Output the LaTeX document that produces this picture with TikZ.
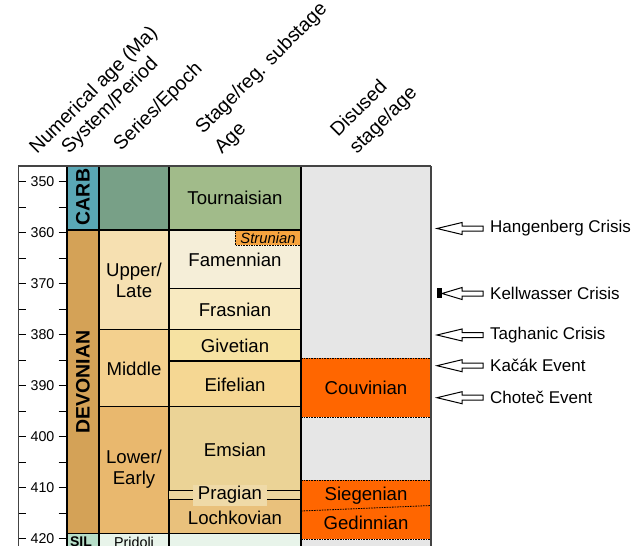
\documentclass[tikz,border=0pt]{standalone}
\usepackage{fontspec}
\setmainfont{Liberation Sans}
\definecolor{carb}{HTML}{5AA7B5}
\definecolor{carbser}{HTML}{78A087}
\definecolor{tourn}{HTML}{A1BB8A}
\definecolor{dev}{HTML}{D4A257}
\definecolor{upperc}{HTML}{F6E0B1}
\definecolor{famen}{HTML}{F5EED8}
\definecolor{frasn}{HTML}{F8EAC1}
\definecolor{middlec}{HTML}{F3D08E}
\definecolor{givet}{HTML}{F6E2A2}
\definecolor{eifel}{HTML}{F5D793}
\definecolor{lowerc}{HTML}{E9B86E}
\definecolor{emsian}{HTML}{EBD396}
\definecolor{pragband}{HTML}{ECD69E}
\definecolor{praglab}{HTML}{EFDAA8}
\definecolor{lochk}{HTML}{E9C17C}
\definecolor{strun}{HTML}{F7A43F}
\definecolor{disused}{HTML}{E6E6E6}
\definecolor{disor}{HTML}{FF6600}
\definecolor{silc}{HTML}{B6DEC8}
\definecolor{prid}{HTML}{E8F4EA}
\definecolor{framec}{HTML}{444444}
\begin{document}
\begin{tikzpicture}[x=1pt,y=-1pt,
  cell/.style={draw=black,line width=1.2pt},
  lab/.style={font=\fontsize{18.6}{21}\selectfont,inner sep=0pt,align=center,text=black},
  syslab/.style={font=\bfseries\fontsize{19.5}{21}\selectfont,inner sep=0pt,text=black,rotate=90},
  head/.style={font=\fontsize{19.5}{22}\selectfont,inner sep=0pt,anchor=base west,rotate=45,text=black},
  ticklab/.style={font=\fontsize{14.2}{16}\selectfont,inner sep=0pt,text=black},
  evlab/.style={font=\fontsize{17}{19}\selectfont,inner sep=0pt,anchor=west,text=black},
  dotline/.style={draw=black,line width=0.8pt,dash pattern=on 1.6pt off 1pt},
  arrowst/.style={draw=black,line width=1pt,fill=white,line join=miter},
  smalllab/.style={font=\fontsize{14.3}{16}\selectfont,inner sep=0pt,text=black}
]
\useasboundingbox (0,0) rectangle (643,546);
\fill[white] (0,0) rectangle (643,546);

% ---- headers
\node[head] (numH) at (37,155) {Numerical age (Ma)};
\node[head] (sysH) at (69,155) {System/Period};
\node[head] (serH) at (121,152) {Series/Epoch};
\node[head] (stgHa) at (203,135) {Stage/reg. substage};
\node[head] (stgHb) at (222,155) {Age};
\node[head] (disHa) at (338,138) {Disused};
\node[head] (disHb) at (357,155) {stage/age};

% ---- disused column
\fill[disused] (301,166) rectangle (431,546);
\fill[disor] (301,358) rectangle (431,417);
\fill[disor] (301,480) rectangle (431,539);
\draw[dotline] (301,358) -- (431,358);
\draw[dotline] (301,417) -- (431,417);
\draw[dotline] (301,480) -- (431,480);
\draw[dotline] (301,511) -- (431,505.5);
\draw[dotline] (301,539) -- (431,539);
\draw[draw=framec,line width=1.2pt] (431,166) -- (431,546);

% ---- system column
\filldraw[cell,fill=carb] (67,166) rectangle (99,230);
\filldraw[cell,fill=dev] (67,230) rectangle (99,533.5);
\filldraw[cell,fill=silc] (67,533.5) rectangle (99,550);

% ---- series column
\filldraw[cell,fill=carbser] (99,166) rectangle (169,230);
\filldraw[cell,fill=upperc] (99,230) rectangle (169,329.3);
\filldraw[cell,fill=middlec] (99,329.3) rectangle (169,406.7);
\filldraw[cell,fill=lowerc] (99,406.7) rectangle (169,533.5);
\filldraw[cell,fill=prid] (99,533.5) rectangle (169,550);

% ---- stage column
\filldraw[cell,fill=tourn] (169,166) rectangle (301,230);
\filldraw[cell,fill=famen] (169,230) rectangle (301,288.3);
\filldraw[cell,fill=frasn] (169,288.3) rectangle (301,329.3);
\filldraw[cell,fill=givet] (169,329.3) rectangle (301,361);
\filldraw[cell,fill=eifel] (169,361) rectangle (301,406.7);
\filldraw[cell,fill=emsian] (169,406.7) rectangle (301,490.7);
\filldraw[cell,fill=lochk] (169,499.3) rectangle (301,533.5);
\fill[pragband] (169,490.7) rectangle (301,499.3);
\draw[black,line width=1pt] (169,490.7) -- (301,490.7);
\draw[black,line width=1pt] (169,499.3) -- (301,499.3);
\filldraw[cell,fill=prid] (169,533.5) rectangle (301,550);

% Strunian
\filldraw[fill=strun,dotline] (235,230) rectangle (301,245);
\draw[black,line width=1.2pt] (169,230) -- (301,230);
\draw[black,line width=1.2pt] (301,166) -- (301,546);

% ---- frame
\draw[framec,line width=1.2pt] (18.5,546) -- (18.5,166) -- (431,166);

% ---- ticks
\foreach \a in {350,355,...,420}{
  \pgfmathsetmacro\yy{181.7+(\a-350)*5.104}
  \draw[black,line width=1pt] (18.5,\yy) -- (26,\yy);
  \draw[black,line width=1pt] (58.5,\yy) -- (67,\yy);
}
\foreach \a in {350,360,...,420}{
  \pgfmathsetmacro\yy{181.7+(\a-350)*5.104}
  \node[ticklab] (t\a) at (42.5,\yy) {\a};
}

% ---- labels
\node[syslab] (carbL) at (83,197) {CARB};
\node[syslab] (devL) at (83,382) {DEVONIAN};
\node[smalllab,font=\bfseries\fontsize{14}{16}\selectfont,anchor=north] (silL) at (81,537) {SIL};
\node[smalllab,anchor=north] (pridL) at (134,537) {Pridoli};

\node[lab] (upperL) at (134,280) {Upper/\\Late};
\node[lab] (middleL) at (134,369) {Middle};
\node[lab] (lowerL) at (134,469) {Lower/\\Early};

\node[lab] (tournL) at (235,198) {Tournaisian};
\node[lab,font=\itshape\fontsize{14.8}{16}\selectfont] (strunL) at (268,238) {Strunian};
\node[lab] (famenL) at (235,259.5) {Famennian};
\node[lab] (frasnL) at (235,309.5) {Frasnian};
\node[lab] (givetL) at (235,345.5) {Givetian};
\node[lab] (eifelL) at (235,384.5) {Eifelian};
\node[lab] (emsL) at (235,449.5) {Emsian};
\node[lab,fill=praglab,minimum width=74pt,minimum height=21pt] (pragL) at (230,495) {Pragian};
\node[lab] (lochkL) at (235,518) {Lochkovian};

\node[lab] (couvL) at (366,388) {Couvinian};
\node[lab] (siegL) at (366,496) {Siegenian};
\node[lab] (gedL) at (366,523) {Gedinnian};

% ---- events
\foreach \yy/\xx in {228.5/437, 293.5/442, 335/437, 365.7/437, 397.7/437}{
  \draw[arrowst] (\xx,\yy) -- (462,\yy-6) -- (462,\yy-2.5) -- (483,\yy-2.5)
     -- (483,\yy+2.5) -- (462,\yy+2.5) -- (462,\yy+6) -- cycle;
}
\fill[black] (437,288.3) rectangle (442,298.3);
\node[evlab] (hangL) at (490,228.5) {Hangenberg Crisis};
\node[evlab] (kellL) at (490,293.5) {Kellwasser Crisis};
\node[evlab] (taghL) at (490,335) {Taghanic Crisis};
\node[evlab] (kacL) at (490,365.7) {Kačák Event};
\node[evlab] (chotL) at (490,397.7) {Choteč Event};
\end{tikzpicture}
\end{document}
